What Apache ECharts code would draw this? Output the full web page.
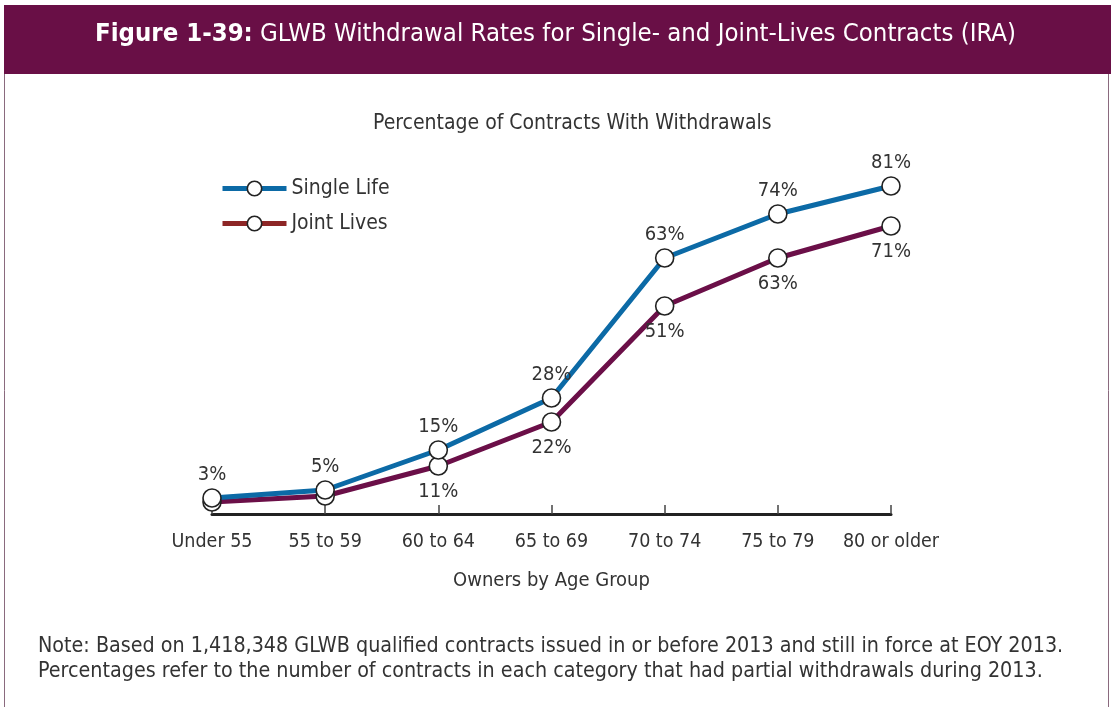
<!DOCTYPE html>
<html><head><meta charset="utf-8">
<script src="https://cdn.jsdelivr.net/npm/echarts@6/dist/echarts.min.js"></script>
<style>html,body{margin:0;padding:0;background:#fff}#c{width:1111px;height:707px}</style>
</head><body><div id="c"></div>
<script>
const categories = ['Under 55','55 to 59','60 to 64','65 to 69','70 to 74','75 to 79','80 or older'];
const singleLife = [3, 5, 15, 28, 63, 74, 81];
const jointLives = [2, 3.5, 11, 22, 51, 63, 71];
const singleLabelShown = [true, true, true, true, true, true, true];
const jointLabelShown = [false, false, true, true, true, true, true];

const FONT = '"DejaVu Sans Condensed", "Liberation Sans Narrow", sans-serif';
const chart = echarts.init(document.getElementById('c'));
const mk = (vals, shown) => vals.map((v, i) => ({value: v, label: {show: shown[i]}}));
const symStyle = {color: '#fff', borderColor: '#222', borderWidth: 1.6};
chart.setOption({
  animation: false,
  textStyle: {fontFamily: FONT},
  graphic: [
    {type: 'rect', left: 4, top: 5, shape: {width: 1107, height: 69}, style: {fill: '#690f46'}},
    {type: 'line', shape: {x1: 4.5, y1: 74, x2: 4.5, y2: 707}, style: {stroke: '#8a6a7e', lineWidth: 1}},
    {type: 'line', shape: {x1: 1108.5, y1: 74, x2: 1108.5, y2: 707}, style: {stroke: '#8a6a7e', lineWidth: 1}},
    {type: 'text', left: 'center', top: 21, style: {
      text: '{b|Figure 1-39:} GLWB Withdrawal Rates for Single- and Joint-Lives Contracts (IRA)',
      fill: '#fff', fontSize: 25.5, fontFamily: FONT,
      rich: {b: {fontWeight: 'bold', fontSize: 25.5, fill: '#fff', fontFamily: FONT}}
    }},
    {type: 'text', left: 373, top: 113, style: {text: 'Percentage of Contracts With Withdrawals', fill: '#333', fontSize: 21, fontFamily: FONT}},
    {type: 'text', left: 38, top: 634, style: {
      text: 'Note: Based on 1,418,348 GLWB qualified contracts issued in or before 2013 and still in force at EOY 2013.\nPercentages refer to the number of contracts in each category that had partial withdrawals during 2013.',
      fill: '#333', fontSize: 21.3, lineHeight: 25, fontFamily: FONT}}
  ],
  legend: {
    left: 215, top: 173, orient: 'vertical', itemWidth: 64, itemHeight: 18, itemGap: 14,
    textStyle: {fontSize: 21, color: '#333', fontFamily: FONT},
    data: [
      {name: 'Single Life', lineStyle: {color: '#0c6aa6', width: 5}, itemStyle: symStyle},
      {name: 'Joint Lives', lineStyle: {color: '#8d2626', width: 5}, itemStyle: symStyle}
    ]
  },
  grid: {left: 212, right: 220, top: 150, bottom: 193},
  xAxis: {
    type: 'category', data: categories, boundaryGap: false,
    axisLine: {onZero: false, lineStyle: {color: '#222', width: 3}},
    axisTick: {inside: true, interval: 0, length: 9, lineStyle: {color: '#444', width: 1.5}},
    axisLabel: {interval: 0, fontSize: 19.5, color: '#333', margin: 18, fontFamily: FONT},
    name: 'Owners by Age Group', nameLocation: 'middle', nameGap: 57,
    nameTextStyle: {fontSize: 20, color: '#333', fontFamily: FONT}
  },
  yAxis: {type: 'value', min: -1, max: 90, show: false, splitLine: {show: false}},
  series: [
    {name: 'Joint Lives', type: 'line', data: mk(jointLives, jointLabelShown),
     symbol: 'circle', symbolSize: 18, itemStyle: symStyle,
     lineStyle: {color: '#6b0f48', width: 5},
     label: {position: 'bottom', distance: 6, formatter: p => Math.round(p.value) + '%', fontSize: 20, color: '#333', fontFamily: FONT}},
    {name: 'Single Life', type: 'line', data: mk(singleLife, singleLabelShown),
     symbol: 'circle', symbolSize: 18, itemStyle: symStyle,
     lineStyle: {color: '#0c6aa6', width: 5},
     label: {position: 'top', distance: 3, formatter: p => p.value + '%', fontSize: 20, color: '#333', fontFamily: FONT}}
  ]
});
</script></body></html>
